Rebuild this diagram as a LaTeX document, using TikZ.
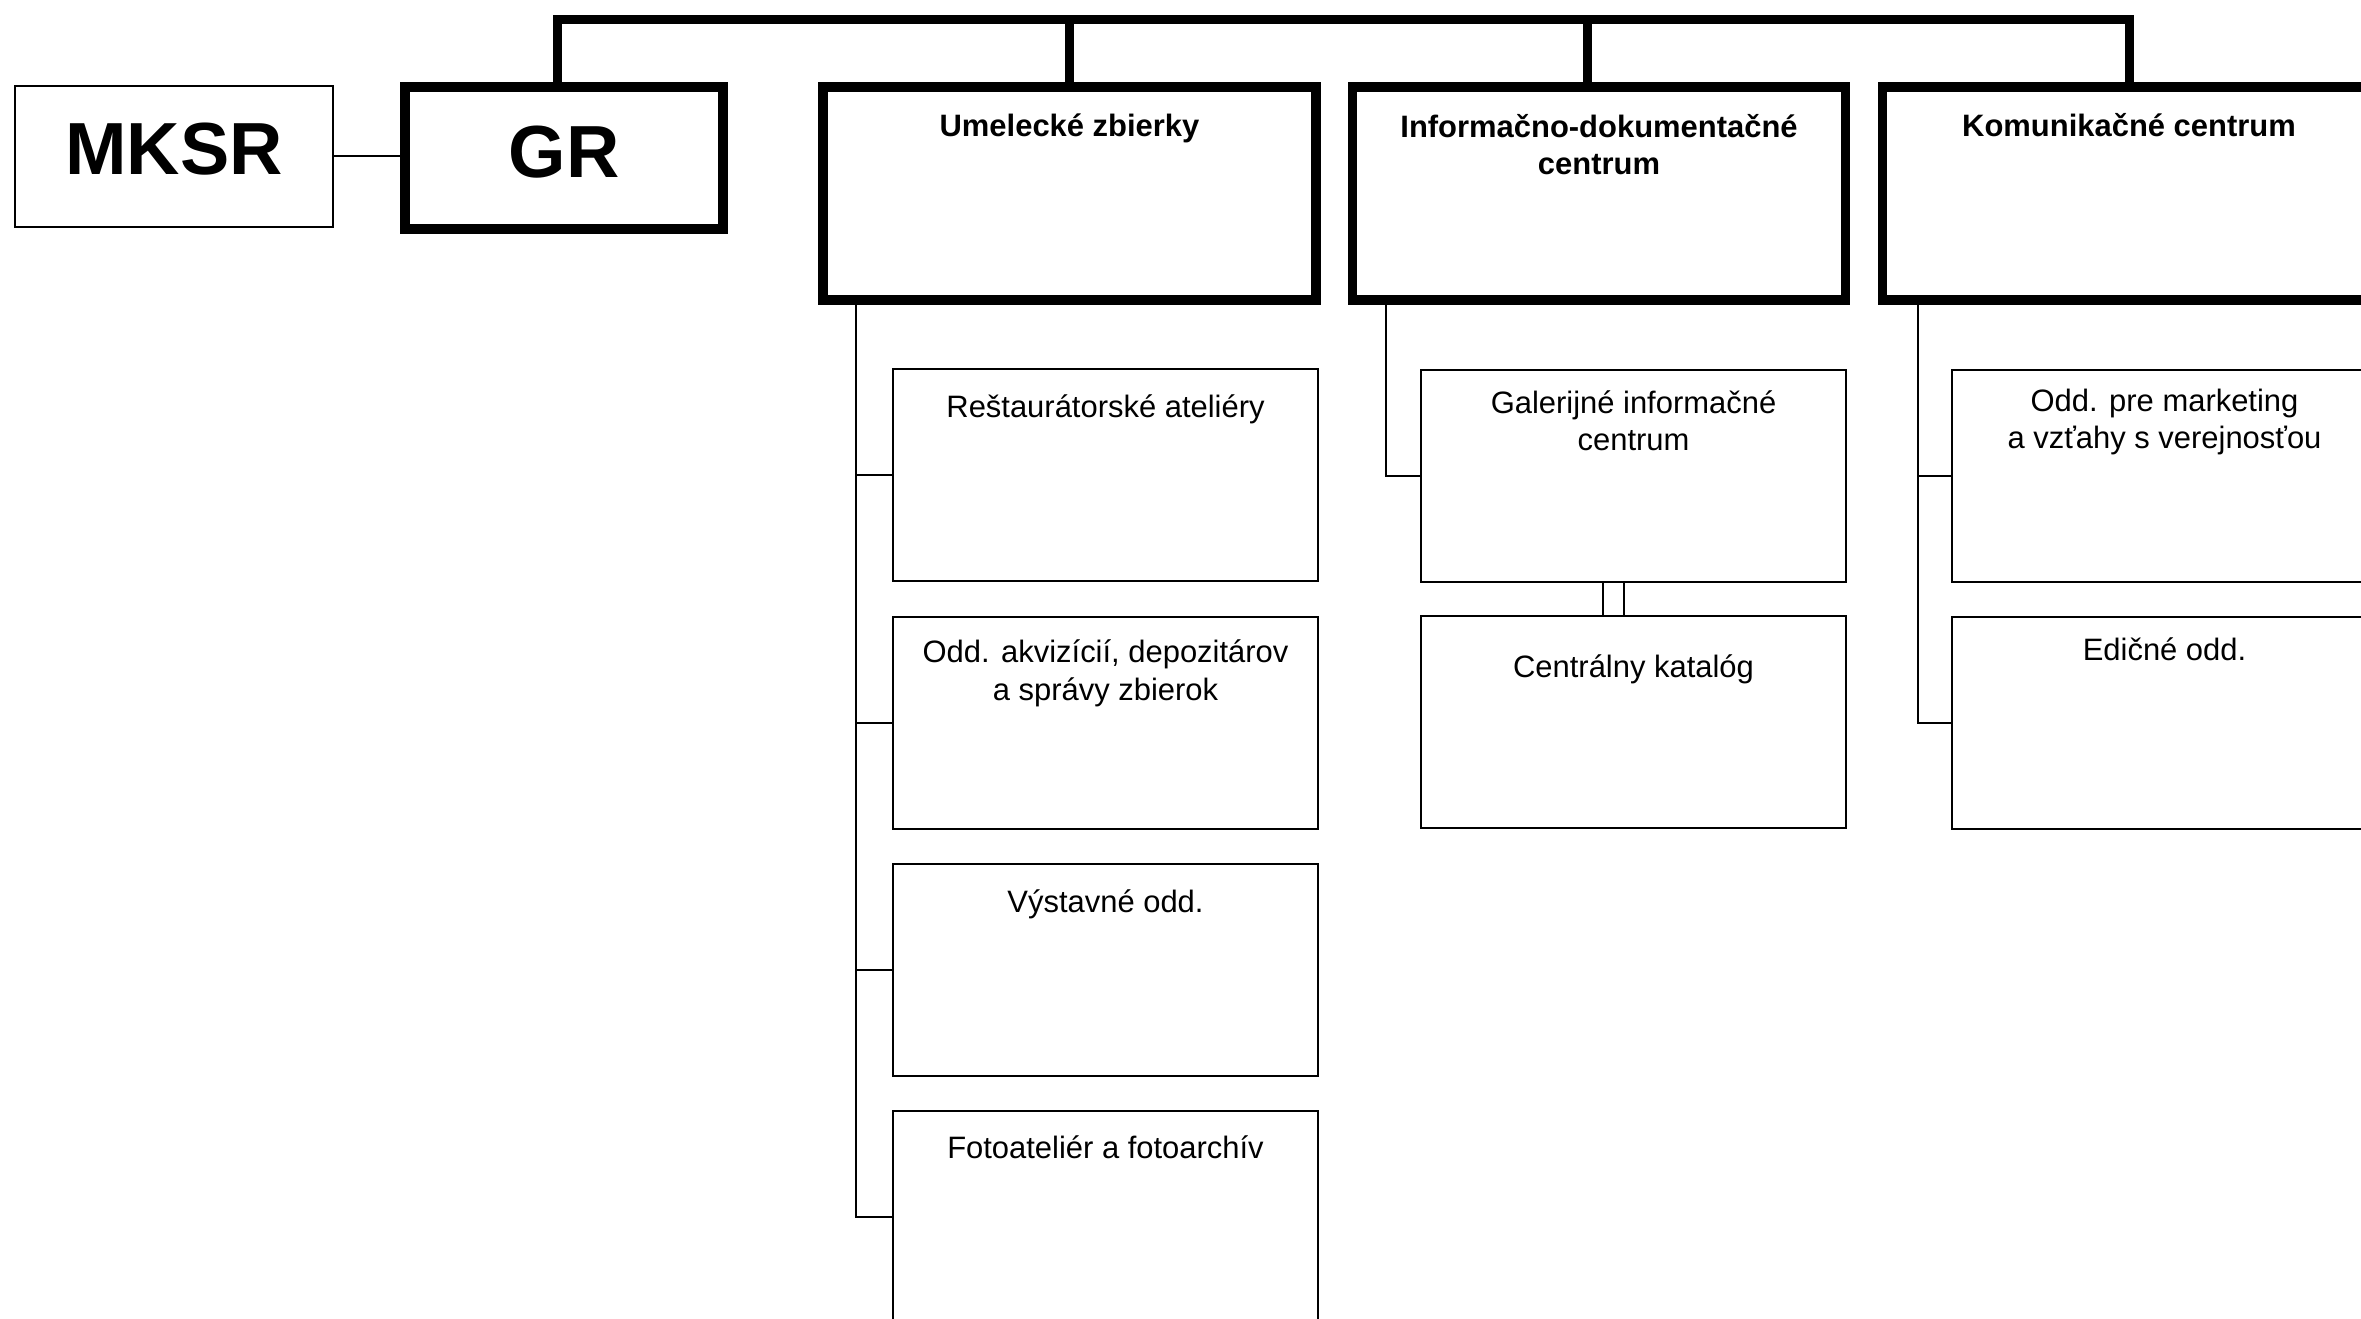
\documentclass[tikz,border=0pt]{standalone}
\usepackage{fontspec}
\setmainfont{Liberation Sans}

\begin{document}
\begin{tikzpicture}[
    x=0.01cm, y=-0.01cm,
    line join=miter,
    mkbox/.style={draw, line width=0.02cm, minimum width=3.18cm, minimum height=1.41cm, inner sep=0pt, outer sep=0pt},
    grbox/.style={draw, line width=0.095cm, minimum width=3.18cm, minimum height=1.42cm, inner sep=0pt, outer sep=0pt},
    deptbox/.style={draw, line width=0.095cm, minimum width=4.93cm, minimum height=2.13cm, inner sep=0pt, outer sep=0pt},
    subbox/.style={draw, line width=0.02cm, minimum width=4.25cm, minimum height=2.12cm, inner sep=0pt, outer sep=0pt},
    bigtxt/.style={font=\fontsize{21}{25}\selectfont\bfseries, inner sep=0pt, anchor=base},
    deptxt/.style={font=\fontsize{8.8}{10.8}\selectfont\bfseries, align=center, inner sep=0pt, anchor=base},
    subtxt/.style={font=\fontsize{8.8}{10.8}\selectfont, align=center, inner sep=0pt, anchor=base},
    bus/.style={line width=0.09cm},
    link/.style={line width=0.02cm}
  ]
  \useasboundingbox (0,0) rectangle (2361,1319);

  % top level
  \node[mkbox] (MKSR) at (174,156.5) {};
  \node[bigtxt] (MKSR-t) at (174,175) {MKSR};
  \node[grbox] (GR) at (564,158) {};
  \node[bigtxt] (GR-t) at (564,178) {GR};

  % departments (base = last line)
  \node[deptbox] (umel) at (1069.5,193.5) {};
  \node[deptxt] (umel-t) at (1069.5,137) {Umelecké zbierky};
  \node[deptbox] (info) at (1599,193.5) {};
  \node[deptxt] (info-t) at (1599,175) {Informačno-dokumentačné\\centrum};
  \node[deptbox] (kom) at (2129,193.5) {};
  \node[deptxt] (kom-t) at (2129,137) {Komunikačné centrum};

  % sections
  \node[subbox] (rest) at (1105.5,475) {};
  \node[subtxt] (rest-t) at (1105.5,418) {Reštaurátorské ateliéry};
  \node[subbox] (akv) at (1105.5,723) {};
  \node[subtxt] (akv-t) at (1105.5,700) {Odd. akvizícií, depozitárov\\a správy zbierok};
  \node[subbox] (vyst) at (1105.5,970) {};
  \node[subtxt] (vyst-t) at (1105.5,912) {Výstavné odd.};
  \node[subbox] (foto) at (1105.5,1217) {};
  \node[subtxt] (foto-t) at (1105.5,1158) {Fotoateliér a fotoarchív};

  \node[subbox] (gal) at (1633.5,476) {};
  \node[subtxt] (gal-t) at (1633.5,451) {Galerijné informačné\\centrum};
  \node[subbox] (cent) at (1633.5,722) {};
  \node[subtxt] (cent-t) at (1633.5,678) {Centrálny katalóg};

  \node[subbox] (mark) at (2164.5,476) {};
  \node[subtxt] (mark-t) at (2164.5,449) {Odd. pre marketing\\a vzťahy s verejnosťou};
  \node[subbox] (edic) at (2164.5,723) {};
  \node[subtxt] (edic-t) at (2164.5,660) {Edičné odd.};

  % connectors
  \coordinate (bus) at (0,20);
  \draw[link] (MKSR.east) -- (MKSR.east -| GR.west);
  \draw[bus] ([xshift=-0.07cm]GR.north) |- (bus -| kom.north) -- (kom.north);
  \draw[bus] (umel.north) -- (umel.north |- bus);
  \draw[bus] ([xshift=-0.12cm]info.north) coordinate (i) -- (i |- bus);

  \coordinate (c1) at ([xshift=0.33cm]umel.south west);
  \draw[link] (c1) |- (foto.west);
  \foreach \b in {rest,akv,vyst}
    \draw[link] (\b.west) -- (\b.west -| c1);
  \coordinate (c2) at ([xshift=0.34cm]info.south west);
  \draw[link] (c2) |- (gal.west);
  \draw[link] ([xshift=-0.305cm]gal.south) -- ([xshift=-0.305cm]cent.north);
  \draw[link] ([xshift=-0.095cm]gal.south) -- ([xshift=-0.095cm]cent.north);
  \coordinate (c3) at ([xshift=0.36cm]kom.south west);
  \draw[link] (c3) |- (edic.west);
  \draw[link] (mark.west) -- (mark.west -| c3);
\end{tikzpicture}
\end{document}
